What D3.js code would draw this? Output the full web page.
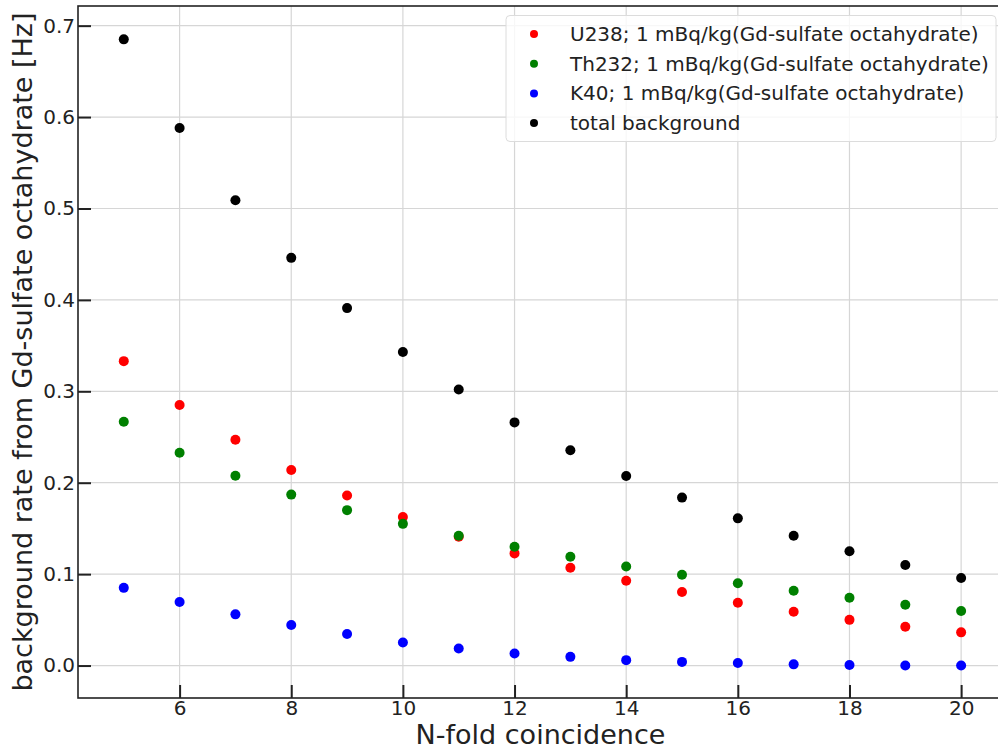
<!DOCTYPE html>
<meta charset="utf-8">
<style>
    body { margin: 0; background: #fff; }
    svg { font-family: "DejaVu Sans", sans-serif; }
    .grid line { stroke: #d6d6d6; stroke-width: 1.2; }
    .axis path { display: none; }
    .axis line { stroke: #222; stroke-width: 2; }
</style>
<body>
<script src="https://cdn.jsdelivr.net/npm/d3@7"></script>
<script>
    // N-fold values
    const nfold = [5, 6, 7, 8, 9, 10, 11, 12, 13, 14, 15, 16, 17, 18, 19, 20];

    const u238 = [0.333, 0.285, 0.247, 0.214, 0.186, 0.1625, 0.141, 0.1227, 0.107, 0.0928, 0.0804, 0.0687, 0.0588, 0.050, 0.0425, 0.0363];
    const th232 = [0.2667, 0.2328, 0.2076, 0.187, 0.170, 0.155, 0.142, 0.130, 0.119, 0.1084, 0.0993, 0.090, 0.0818, 0.0742, 0.0665, 0.0596];
    const k40 = [0.085, 0.0695, 0.056, 0.0443, 0.0345, 0.0252, 0.0186, 0.0131, 0.0095, 0.0059, 0.004, 0.0027, 0.0013, 0.0006, 0.0001, 0.0001];
    const total = [0.685, 0.588, 0.509, 0.446, 0.391, 0.343, 0.302, 0.266, 0.2355, 0.2074, 0.1837, 0.161, 0.142, 0.125, 0.110, 0.0957];

    const xTicks = [6, 8, 10, 12, 14, 16, 18, 20];
    const yTicks = [0.0, 0.1, 0.2, 0.3, 0.4, 0.5, 0.6, 0.7];

    const series = [
        {name: "U238; 1 mBq/kg(Gd-sulfate octahydrate)", color: "#ff0000", values: u238},
        {name: "Th232; 1 mBq/kg(Gd-sulfate octahydrate)", color: "#008000", values: th232},
        {name: "K40; 1 mBq/kg(Gd-sulfate octahydrate)", color: "#0000ff", values: k40},
        {name: "total background", color: "#000000", values: total}
    ];

    const W = 998, H = 747;
    const m = {left: 78, right: 1003, top: 6, bottom: 698};

    const svg = d3.select("body").append("svg")
        .attr("width", W)
        .attr("height", H);

    const x = d3.scaleLinear().domain([4.18, 20.75]).range([m.left, m.right]);
    const y = d3.scaleLinear().domain([-0.0355, 0.7215]).range([m.bottom, m.top]);

    // grid
    const grid = svg.append("g").attr("class", "grid");
    grid.selectAll(".gx").data(xTicks).enter().append("line")
        .attr("x1", d => x(d)).attr("x2", d => x(d))
        .attr("y1", m.top).attr("y2", m.bottom);
    grid.selectAll(".gy").data(yTicks).enter().append("line")
        .attr("x1", m.left).attr("x2", m.right)
        .attr("y1", d => y(d)).attr("y2", d => y(d));

    // axes with inward ticks
    const xAxis = svg.append("g")
        .attr("class", "x axis")
        .attr("transform", "translate(0," + m.bottom + ")")
        .call(d3.axisBottom(x).tickValues(xTicks).tickSize(-13).tickPadding(3).tickFormat(d3.format("d")));

    const yAxis = svg.append("g")
        .attr("class", "y axis")
        .attr("transform", "translate(" + m.left + ",0)")
        .call(d3.axisLeft(y).tickValues(yTicks).tickSize(-13).tickPadding(3).tickFormat(d3.format(".1f")));

    svg.selectAll(".axis text")
        .style("font-family", "'DejaVu Sans', sans-serif")
        .style("font-size", "20px")
        .style("fill", "#222");

    // spines
    svg.append("rect")
        .attr("x", m.left).attr("y", m.top)
        .attr("width", m.right - m.left).attr("height", m.bottom - m.top)
        .attr("fill", "none")
        .attr("stroke", "#222")
        .attr("stroke-width", 1.6);

    // points
    series.forEach(s => {
        svg.append("g").selectAll("circle")
            .data(s.values)
            .enter().append("circle")
            .attr("cx", (d, i) => x(nfold[i]))
            .attr("cy", d => y(d))
            .attr("r", 5)
            .attr("fill", s.color);
    });

    // legend
    const legend = svg.append("g").attr("class", "legend");
    legend.append("rect")
        .attr("x", 506).attr("y", 15.5)
        .attr("width", 490).attr("height", 126)
        .attr("rx", 4)
        .attr("fill", "#fff").attr("fill-opacity", 0.8)
        .attr("stroke", "#dcdcdc");

    const item = legend.selectAll(".item")
        .data(series)
        .enter().append("g")
        .attr("transform", (d, i) => "translate(534," + (34 + i * 29.7) + ")");
    item.append("circle")
        .attr("r", 4)
        .attr("fill", d => d.color);
    item.append("text")
        .attr("x", 36)
        .attr("dy", "0.35em")
        .style("font-size", "20px")
        .style("fill", "#222")
        .text(d => d.name);

    // axis labels
    svg.append("text")
        .attr("x", (m.left + m.right) / 2)
        .attr("y", 744)
        .attr("text-anchor", "middle")
        .style("font-size", "27px")
        .style("fill", "#222")
        .text("N-fold coincidence");

    svg.append("text")
        .attr("transform", "translate(32," + ((m.top + m.bottom) / 2) + ") rotate(-90)")
        .attr("text-anchor", "middle")
        .style("font-size", "27px")
        .style("fill", "#222")
        .text("background rate from Gd-sulfate octahydrate [Hz]");
</script>
</body>
</html>
